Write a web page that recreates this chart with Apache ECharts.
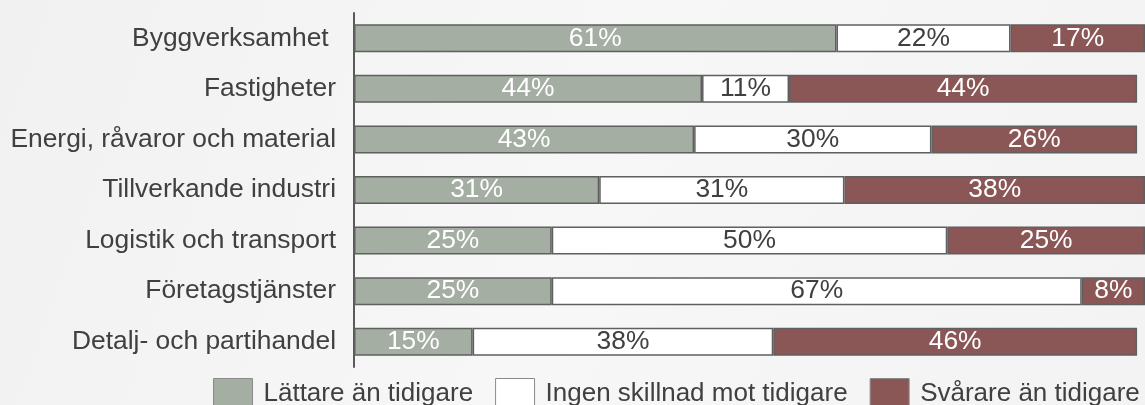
<!DOCTYPE html>
<html lang="sv">
<head>
<meta charset="UTF-8">
<title>Branscher</title>
<script src="https://cdn.jsdelivr.net/npm/echarts@6/dist/echarts.min.js"></script>
<style>
  html, body { margin: 0; padding: 0; }
  #chart { width: 1145px; height: 405px; }
</style>
</head>
<body>
<div id="chart"></div>
<script>
  // kategorier uppifrån och ned
  const categories = ['Byggverksamhet ', 'Fastigheter', 'Energi, råvaror och material', 'Tillverkande industri',
    'Logistik och transport', 'Företagstjänster', 'Detalj- och partihandel'];
  const easier = [61, 44, 43, 31, 25, 25, 15];
  const noDiff = [22, 11, 30, 31, 50, 67, 38];
  const harder = [17, 44, 26, 38, 25, 8, 46];
  const seriesNames = ['Lättare än tidigare', 'Ingen skillnad mot tidigare', 'Svårare än tidigare'];

  const font = '"Liberation Sans", Arial, sans-serif';
  const fs = 26.4;
  const colors = ['#a4aea2', '#ffffff', '#8b5756'];
  const labelColors = ['#ffffff', '#404040', '#ffffff'];

  function makeSeries(name, data, i) {
    return {
      name: name,
      type: 'bar',
      stack: 'all',
      barWidth: 28,
      data: data,
      itemStyle: { color: colors[i], borderColor: '#5f5f5f', borderWidth: 1.5 },
      label: {
        show: true, position: 'inside', formatter: '{c}%',
        color: labelColors[i], fontSize: fs, fontFamily: font
      },
      emphasis: { disabled: true }
    };
  }

  const chart = echarts.init(document.getElementById('chart'));
  chart.setOption({
    backgroundColor: new echarts.graphic.LinearGradient(0, 0, 1, 1, [
      { offset: 0, color: '#f1f1f1' },
      { offset: 0.5, color: '#f7f7f7' },
      { offset: 1, color: '#f3f3f3' }
    ]),
    animation: false,
    grid: { left: 354, top: 13, width: 800, height: 354 },
    legend: {
      left: 208, top: 373,
      icon: 'rect',
      itemWidth: 39, itemHeight: 30, itemGap: 22,
      data: seriesNames.map((n, i) => ({
        name: n,
        itemStyle: { color: colors[i], borderColor: '#8a8a8a', borderWidth: 1 }
      })),
      textStyle: { fontSize: 26, color: '#404040', fontFamily: font, padding: [6, 0, 0, 6] },
      selectedMode: false
    },
    xAxis: { type: 'value', min: 0, max: 100, show: false },
    yAxis: {
      type: 'category', data: categories, inverse: true,
      axisLine: { lineStyle: { color: '#5a5a5a', width: 2 } },
      axisTick: { show: false },
      axisLabel: { fontSize: fs, color: '#404040', fontFamily: font, margin: 18 }
    },
    series: [
      makeSeries(seriesNames[0], easier, 0),
      makeSeries(seriesNames[1], noDiff, 1),
      makeSeries(seriesNames[2], harder, 2)
    ]
  });
</script>
</body>
</html>
